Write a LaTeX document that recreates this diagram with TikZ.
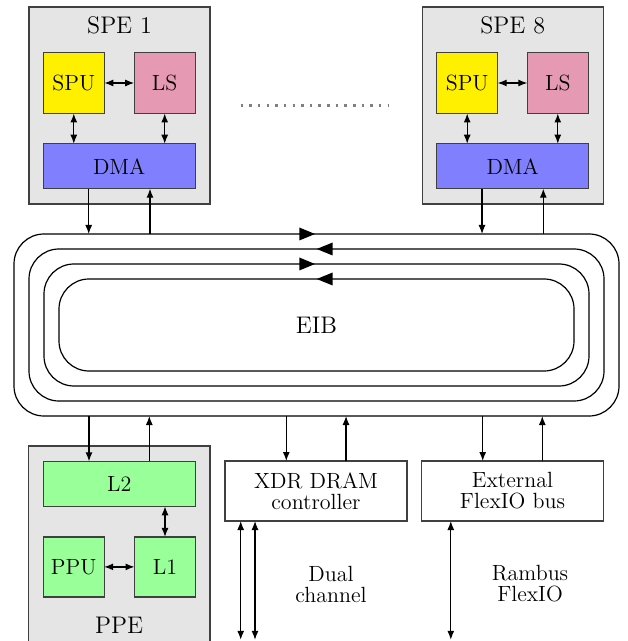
\documentclass[tikz,border=0pt]{standalone}
\usepackage{fontspec}
\usetikzlibrary{arrows.meta,calc}
\definecolor{speyellow}{RGB}{255,240,0}
\definecolor{lspink}{RGB}{229,153,178}
\definecolor{dmablue}{RGB}{128,128,255}
\definecolor{ppegreen}{RGB}{153,255,153}
\definecolor{boxgray}{RGB}{229,229,229}
\definecolor{edgegray}{RGB}{64,64,64}
\begin{document}
\begin{tikzpicture}[x=0.5pt,y=-0.5pt,
  body/.style={font=\fontsize{11}{10.5}\selectfont},
  unitbox/.style={draw=edgegray,line width=0.6pt,inner sep=0pt,outer sep=0pt,body,align=center},
  group/.style={draw=edgegray,fill=boxgray,line width=0.6pt,inner sep=0pt,outer sep=0pt},
  grouptitle/.style={font=\fontsize{12}{14}\selectfont,anchor=base,inner sep=0pt},
  ring/.style={draw,line width=0.6pt,rounded corners=15pt,inner sep=0pt,outer sep=0pt},
  arr/.style={-{Latex[length=4.5pt,width=3.5pt]},line width=0.6pt},
  darr/.style={{Latex[length=4.5pt,width=3.5pt]}-{Latex[length=4.5pt,width=3.5pt]},line width=0.6pt},
  sq/.style={minimum width=30.5pt,minimum height=30.5pt},
  wide/.style={minimum width=76pt,minimum height=22.5pt},
  iobox/.style={unitbox,fill=white,minimum width=91pt,minimum height=30pt},
  ringtip/.style={fill=black},
  dots/.style={gray,line width=1.25pt,dash pattern=on 1.25pt off 3.07pt}
]
\useasboundingbox (0,0) rectangle (627,641);

% ---------- SPE 1 ----------
\node[group,minimum width=90.5pt,minimum height=98.5pt] (spe1) at (119.5,105.5) {};
\node[grouptitle] (spe1t) at (119.5,33.3) {SPE 1};
\node[unitbox,sq,fill=speyellow] (spu1) at (73.8,83) {SPU};
\node[unitbox,sq,fill=lspink] (ls1) at (164.7,83) {LS};
\node[unitbox,wide,fill=dmablue] (dma1) at (119.2,166.2) {DMA};
\draw[darr] (spu1) -- (ls1);
\draw[darr] (spu1.south) -- (spu1.south |- dma1.north);
\draw[darr] (ls1.south) -- (ls1.south |- dma1.north);

% ---------- SPE 8 ----------
\node[group,minimum width=90.5pt,minimum height=98.5pt] (spe8) at (512.7,105.5) {};
\node[grouptitle] (spe8t) at (512.7,33.3) {SPE 8};
\node[unitbox,sq,fill=speyellow] (spu8) at (467.2,83) {SPU};
\node[unitbox,sq,fill=lspink] (ls8) at (557.8,83) {LS};
\node[unitbox,wide,fill=dmablue] (dma8) at (512.7,166.2) {DMA};
\draw[darr] (spu8) -- (ls8);
\draw[darr] (spu8.south) -- (spu8.south |- dma8.north);
\draw[darr] (ls8.south) -- (ls8.south |- dma8.north);

% dotted separator
\coordinate (dotA) at (240.7,105.7);
\coordinate (dotB) at (389,105.7);
\draw[dots] (dotA) -- (dotB);

% ---------- EIB rings ----------
\node[ring,minimum width=302.5pt,minimum height=91pt] (ring1) at (316.5,325) {};
\node[ring,minimum width=287.5pt,minimum height=76pt] (ring2) at (316.5,325) {};
\node[ring,minimum width=272.5pt,minimum height=61pt] (ring3) at (316.5,325) {};
\node[ring,minimum width=257.5pt,minimum height=46pt,font=\fontsize{12}{14}\selectfont] (ring4) at (316.5,325) {EIB};

\fill[ringtip] ($(ring1.north)+(-17.2,-6.5)$) -- ($(ring1.north)+(-1.5,0)$) -- ($(ring1.north)+(-17.2,6.5)$) -- cycle;
\fill[ringtip] ($(ring2.north)+(16.2,-6.5)$) -- ($(ring2.north)+(0.2,0)$) -- ($(ring2.north)+(16.2,6.5)$) -- cycle;
\fill[ringtip] ($(ring3.north)+(-17.2,-6.5)$) -- ($(ring3.north)+(-1.5,0)$) -- ($(ring3.north)+(-17.2,6.5)$) -- cycle;
\fill[ringtip] ($(ring4.north)+(16.2,-6.5)$) -- ($(ring4.north)+(0.2,0)$) -- ($(ring4.north)+(16.2,6.5)$) -- cycle;

% SPE <-> ring
\coordinate (s1d) at ($(dma1.south)+(-30.5,0)$);
\coordinate (s1u) at ($(dma1.south)+(30.8,0)$);
\draw[arr] (s1d) -- (s1d |- ring1.north);
\draw[arr] (s1u |- ring1.north) -- (s1u);
\coordinate (s8d) at ($(dma8.south)+(-30.7,0)$);
\coordinate (s8u) at ($(dma8.south)+(30.6,0)$);
\draw[arr] (s8d) -- (s8d |- ring1.north);
\draw[arr] (s8u |- ring1.north) -- (s8u);

% ---------- PPE ----------
\node[group,minimum width=90.85pt,minimum height=98.5pt] (ppe) at (119.2,544.5) {};
\node[grouptitle] (ppet) at (119.2,633) {PPE};
\node[unitbox,wide,fill=ppegreen] (l2) at (119.3,483.8) {L2};
\node[unitbox,sq,minimum height=30pt,fill=ppegreen] (ppu) at (73.7,566.9) {PPU};
\node[unitbox,sq,minimum height=30pt,fill=ppegreen] (l1) at (165,566.9) {L1};
\draw[darr] (ppu) -- (l1);
\draw[darr] (l1.north) -- (l1.north |- l2.south);
\coordinate (pd) at ($(l2.north)+(-30.3,0)$);
\coordinate (pu) at ($(l2.north)+(30,0)$);
\draw[arr] (pd |- ring1.south) -- (pd);
\draw[arr] (pu) -- (pu |- ring1.south);

% ---------- I/O boxes ----------
\node[iobox] (xdr) at (316,491) {XDR DRAM\\controller};
\node[iobox] (ext) at (512.5,491) {External\\FlexIO bus};
\coordinate (xd) at ($(xdr.north)+(-29.7,0)$);
\coordinate (xu) at ($(xdr.north)+(30,0)$);
\draw[arr] (xd |- ring1.south) -- (xd);
\draw[arr] (xu) -- (xu |- ring1.south);
\coordinate (ed) at ($(ext.north)+(-29.8,0)$);
\coordinate (eu) at ($(ext.north)+(29.8,0)$);
\draw[arr] (ed |- ring1.south) -- (ed);
\draw[arr] (eu) -- (eu |- ring1.south);

% external channels
\coordinate (ch1) at ($(xdr.south west)+(15.7,0)$);
\coordinate (ch2) at ($(xdr.south west)+(30,0)$);
\coordinate (ch3) at ($(ext.south west)+(29.3,0)$);
\coordinate (ch1e) at ($(ch1)+(0,118.8)$);
\coordinate (ch2e) at ($(ch2)+(0,118.8)$);
\coordinate (ch3e) at ($(ch3)+(0,118.8)$);
\draw[darr] (ch1) -- (ch1e);
\draw[darr] (ch2) -- (ch2e);
\draw[darr] (ch3) -- (ch3e);

\node[body,align=center] (dual) at (331,584) {Dual\\channel};
\node[body,align=center] (rambus) at (530,584) {Rambus\\FlexIO};
\end{tikzpicture}
\end{document}
